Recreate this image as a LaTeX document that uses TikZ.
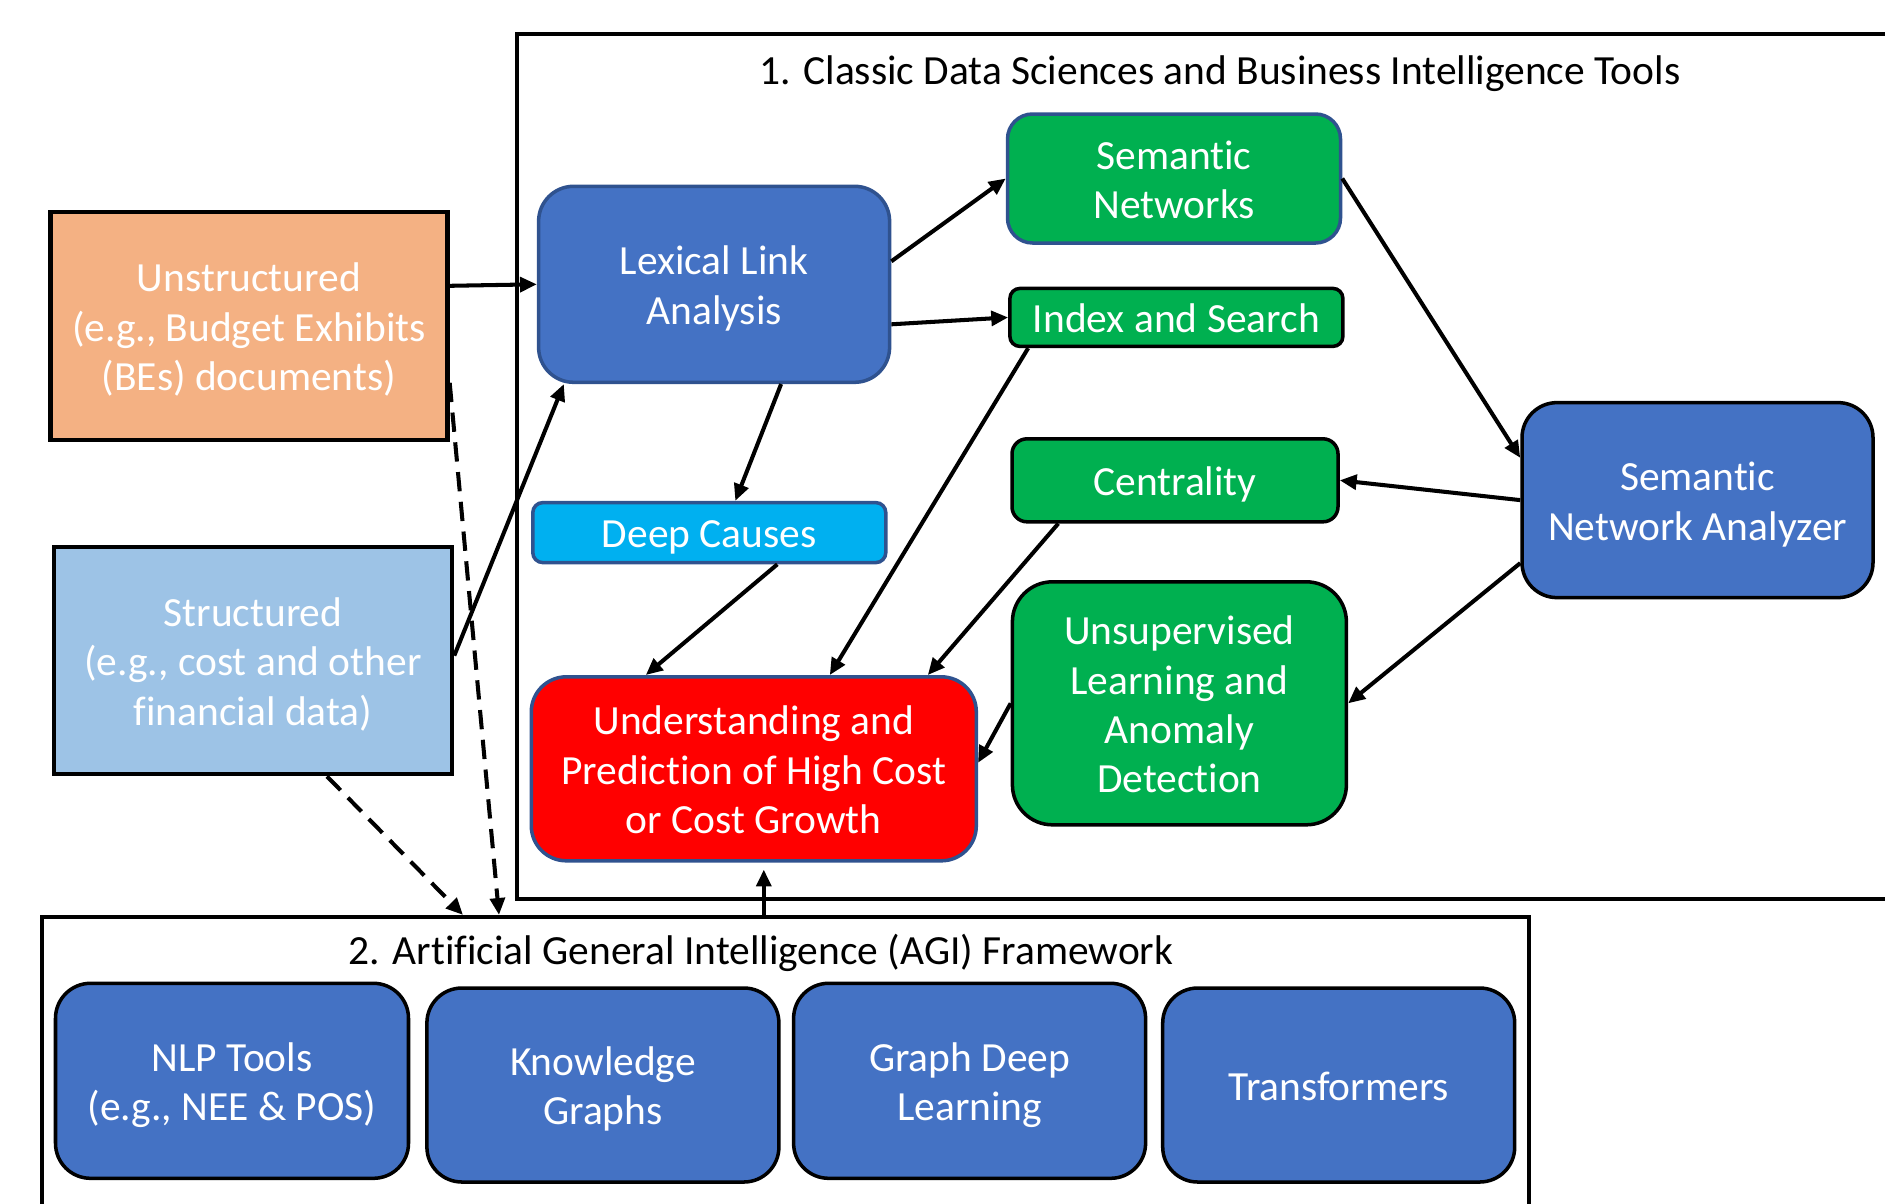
\documentclass[tikz,border=0pt]{standalone}
\usepackage{fontspec}
\setmainfont{Carlito}[Ligatures=NoCommon]
\usetikzlibrary{arrows.meta}
\definecolor{boxblue}{HTML}{4472C4}
\definecolor{edgeblue}{HTML}{2F528F}
\definecolor{boxgreen}{HTML}{00B050}
\definecolor{boxcyan}{HTML}{00B0F0}
\definecolor{boxred}{HTML}{FF0000}
\definecolor{boxorange}{HTML}{F4B183}
\definecolor{boxlight}{HTML}{9DC3E6}
% fixed line box: first line height, last line without depth
\newcommand{\firstln}{\rule{0pt}{8.7pt}}
\newcommand{\lastln}[1]{\smash{#1}}
\begin{document}
\begin{tikzpicture}[
    >={Triangle[length=4.8pt,width=4.2pt]},
    txt/.style={font=\fontsize{11.8}{14}\selectfont, align=center, text=white, inner sep=0pt},
    frame/.style={draw=black, line width=1.2pt, inner sep=0pt},
    title/.style={font=\fontsize{11.8}{14}\selectfont, text=black},
    srcbox/.style={txt, draw=black, line width=1.3pt},
    bluebox/.style={txt, fill=boxblue, draw=black, line width=1pt},
    greenbox/.style={txt, fill=boxgreen, draw=black, line width=1pt},
    link/.style={->, line width=1.15pt},
    datalink/.style={->, line width=1.15pt, dash pattern=on 5.5pt off 3pt}
  ]
  \useasboundingbox (0,0) rectangle (18.85,-12.03);

  % frames
  \node[frame, minimum width=13.83cm, minimum height=8.65cm] (classic) at (12.085,-4.665) {};
  \node[title] (classictitle) at (12.20,-0.74) {1. Classic Data Sciences and Business Intelligence Tools};
  \node[frame, minimum width=14.87cm, minimum height=2.98cm] (agi) at (7.856,-10.66) {};
  \node[title] (agititle) at (7.61,-9.53) {2. Artificial General Intelligence (AGI) Framework};

  % data sources
  \node[srcbox, fill=boxorange, minimum width=3.97cm, minimum height=2.28cm] (unstr) at (2.489,-3.258) {\firstln Unstructured\\(e.g., Budget Exhibits\\\lastln{(BEs) documents)}};
  \node[srcbox, fill=boxlight, minimum width=3.98cm, minimum height=2.27cm] (struct) at (2.53,-6.606) {\firstln Structured\\(e.g., cost and other\\\lastln{financial data)}};

  % classic tools
  \node[bluebox, draw=edgeblue, minimum width=3.51cm, minimum height=1.96cm, rounded corners=0.35cm] (lla) at (7.141,-2.843) {\firstln Lexical Link\\\lastln{Analysis}};
  \node[greenbox, draw=edgeblue, minimum width=3.33cm, minimum height=1.29cm, rounded corners=0.25cm] (semnet) at (11.74,-1.785) {\firstln Semantic\\\lastln{Networks}};
  \node[greenbox, minimum width=3.33cm, minimum height=0.58cm, rounded corners=0.1cm] (index) at (11.764,-3.174) {\firstln\lastln{Index and Search}};
  \node[greenbox, minimum width=3.26cm, minimum height=0.83cm, rounded corners=0.15cm] (cent) at (11.75,-4.803) {\firstln\lastln{Centrality}};
  \node[txt, fill=boxcyan, draw=edgeblue, line width=1pt, minimum width=3.53cm, minimum height=0.60cm, rounded corners=0.1cm] (deep) at (7.093,-5.326) {\firstln\lastln{Deep Causes}};
  \node[bluebox, minimum width=3.51cm, minimum height=1.95cm, rounded corners=0.35cm] (sna) at (16.975,-5.001) {\firstln Semantic\\\lastln{Network Analyzer}};
  \node[greenbox, minimum width=3.34cm, minimum height=2.43cm, rounded corners=0.4cm] (unsup) at (11.794,-7.033) {\firstln Unsupervised\\Learning and\\Anomaly\\\lastln{Detection}};
  \node[txt, fill=boxred, draw=edgeblue, line width=1pt, minimum width=4.45cm, minimum height=1.84cm, rounded corners=0.35cm] (under) at (7.538,-7.688) {\firstln Understanding and\\Prediction of High Cost\\\lastln{or Cost Growth}};

  % AGI tools
  \node[bluebox, minimum width=3.53cm, minimum height=1.95cm, rounded corners=0.35cm] (nlp) at (2.32,-10.808) {\firstln NLP Tools\\\lastln{(e.g., NEE \& POS)}};
  \node[bluebox, minimum width=3.52cm, minimum height=1.94cm, rounded corners=0.35cm] (kg) at (6.029,-10.85) {\firstln Knowledge\\\lastln{Graphs}};
  \node[bluebox, minimum width=3.52cm, minimum height=1.95cm, rounded corners=0.35cm] (gdl) at (9.696,-10.808) {\firstln Graph Deep\\\lastln{Learning}};
  \node[bluebox, minimum width=3.52cm, minimum height=1.94cm, rounded corners=0.35cm] (trans) at (13.387,-10.85) {\firstln\lastln{Transformers}};

  % links
  \draw[link] ([yshift=0.4cm]unstr.east) -- (lla.west);
  \draw[link] ([yshift=0.05cm]struct.east) -- ([xshift=0.27cm]lla.south west);
  \draw[link] ([yshift=0.23cm]lla.east) -- (semnet.west);
  \draw[link] ([yshift=-0.4cm]lla.east) -- (index.west);
  \draw[link] ([xshift=0.67cm]lla.south) -- ([xshift=0.26cm]deep.north);
  \draw[link] ([xshift=0.68cm]deep.south) -- ([xshift=-1.08cm]under.north);
  \draw[link] ([xshift=0.2cm]index.south west) -- ([xshift=0.76cm]under.north);
  \draw[link] ([xshift=0.48cm]cent.south west) -- ([xshift=1.74cm]under.north);
  \draw[link] (unsup.west) -- ([yshift=0.06cm]under.east);
  \draw[link] (semnet.east) -- ([yshift=-0.57cm]sna.north west);
  \draw[link] (sna.west) -- (cent.east);
  \draw[link] ([yshift=-0.63cm]sna.west) -- (unsup.east);
  \draw[link, shorten >=0.07cm] ([xshift=0.1cm]under.south |- agi.north) -- ([xshift=0.1cm]under.south);
  \draw[datalink] ([yshift=-0.57cm]unstr.east) -- ([xshift=4.59cm]agi.north west);
  \draw[datalink] ([xshift=0.74cm]struct.south) -- ([xshift=4.23cm]agi.north west);
\end{tikzpicture}
\end{document}
